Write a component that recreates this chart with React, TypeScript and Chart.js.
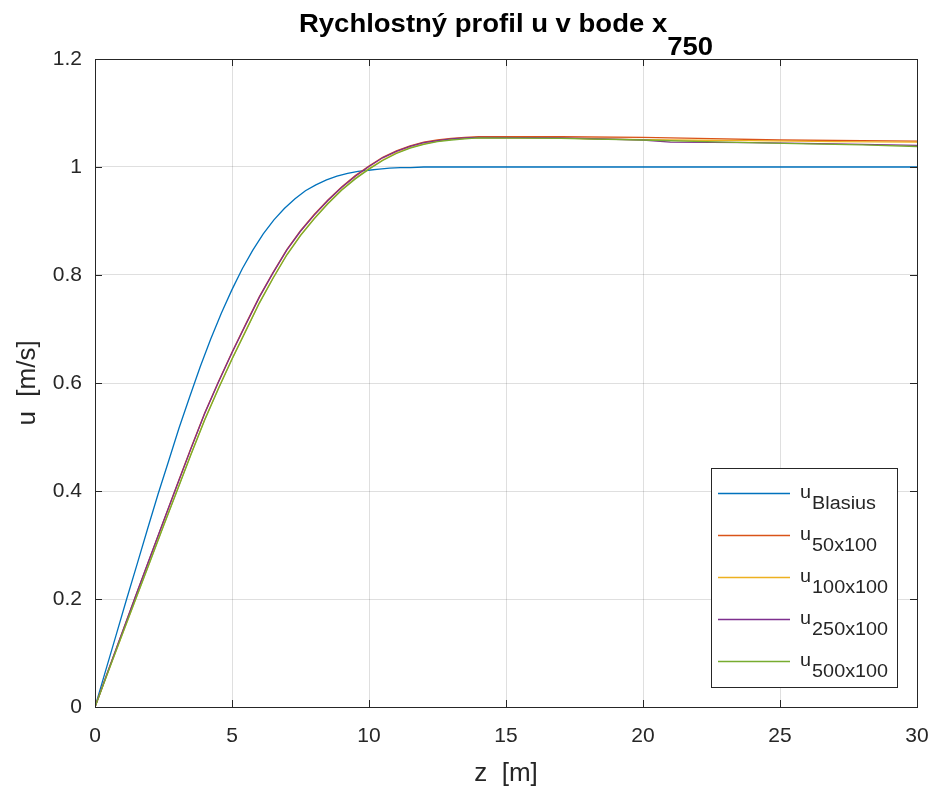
import React, { useEffect, useRef } from "react";
import { Chart, registerables } from "chart.js";

Chart.register(...registerables);

// ---- Data ----
const xTicks = [0, 5, 10, 15, 20, 25, 30];
const xTickLabels = ["0", "5", "10", "15", "20", "25", "30"];
const yTicks = [0, 0.2, 0.4, 0.6, 0.8, 1, 1.2];
const yTickLabels = ["0", "0.2", "0.4", "0.6", "0.8", "1", "1.2"];

const titleMain = "Rychlostný profil u v bode x";
const titleSub = "750";
const xTitle = "z  [m]";
const yTitle = "u  [m/s]";

const seriesNames = ["Blasius", "50x100", "100x100", "250x100", "500x100"];
const seriesColors = ["#0072BD", "#D95319", "#EDB120", "#7E2F8E", "#77AC30"];

const blasiusZ = [0, 0.38, 0.77, 1.15, 1.54, 1.92, 2.3, 2.69, 3.07, 3.46, 3.84, 4.22, 4.61, 4.99, 5.38, 5.76, 6.14, 6.53, 6.91, 7.3, 7.68, 8.06, 8.45, 8.83, 9.22, 9.6, 9.98, 10.37, 10.75, 11.14, 11.52, 12, 30];
const blasiusU = [0, 0.066, 0.133, 0.199, 0.265, 0.33, 0.394, 0.456, 0.517, 0.575, 0.63, 0.681, 0.729, 0.772, 0.812, 0.846, 0.876, 0.902, 0.923, 0.941, 0.956, 0.967, 0.976, 0.983, 0.988, 0.992, 0.994, 0.996, 0.998, 0.999, 0.999, 1.0, 1.0];

const z50 = [0, 0.5, 1, 1.5, 2, 2.5, 3, 3.5, 4, 4.5, 5, 5.5, 6, 6.5, 7, 7.5, 8, 8.5, 9, 9.5, 10, 10.5, 11, 11.5, 12, 12.5, 13, 13.5, 14, 17, 20, 21, 22, 25, 28, 30];
const u50 = [0, 0.07, 0.139, 0.208, 0.276, 0.344, 0.412, 0.479, 0.544, 0.602, 0.657, 0.709, 0.76, 0.805, 0.847, 0.882, 0.912, 0.939, 0.963, 0.984, 1.002, 1.018, 1.03, 1.039, 1.046, 1.05, 1.053, 1.055, 1.056, 1.056, 1.055, 1.054, 1.053, 1.05, 1.049, 1.048];

const z100 = [0, 0.5, 1, 1.5, 2, 2.5, 3, 3.5, 4, 4.5, 5, 5.5, 6, 6.5, 7, 7.5, 8, 8.5, 9, 9.5, 10, 10.5, 11, 11.5, 12, 12.5, 13, 13.5, 14, 17, 18, 21, 24, 27, 30];
const u100 = [0, 0.068, 0.135, 0.202, 0.269, 0.336, 0.402, 0.468, 0.532, 0.59, 0.645, 0.697, 0.749, 0.795, 0.838, 0.874, 0.905, 0.933, 0.958, 0.979, 0.997, 1.013, 1.026, 1.036, 1.043, 1.048, 1.051, 1.053, 1.054, 1.054, 1.052, 1.05, 1.049, 1.047, 1.046];

const z250 = [0, 0.5, 1, 1.5, 2, 2.5, 3, 3.5, 4, 4.5, 5, 5.5, 6, 6.5, 7, 7.5, 8, 8.5, 9, 9.5, 10, 10.5, 11, 11.5, 12, 12.5, 13, 13.5, 14, 17, 20, 21, 24, 27, 30];
const u250 = [0, 0.07, 0.139, 0.208, 0.276, 0.344, 0.411, 0.478, 0.543, 0.601, 0.656, 0.708, 0.759, 0.804, 0.846, 0.881, 0.911, 0.938, 0.962, 0.983, 1.001, 1.017, 1.029, 1.038, 1.045, 1.049, 1.052, 1.054, 1.055, 1.054, 1.05, 1.046, 1.045, 1.043, 1.04];

const z500 = [0, 0.5, 1, 1.5, 2, 2.5, 3, 3.5, 4, 4.5, 5, 5.5, 6, 6.5, 7, 7.5, 8, 8.5, 9, 9.5, 10, 10.5, 11, 11.5, 12, 12.5, 13, 13.5, 14, 17, 20, 23, 26, 28, 30];
const u500 = [0, 0.068, 0.135, 0.202, 0.268, 0.335, 0.401, 0.467, 0.531, 0.589, 0.644, 0.696, 0.748, 0.794, 0.837, 0.873, 0.904, 0.932, 0.957, 0.978, 0.996, 1.012, 1.025, 1.035, 1.042, 1.047, 1.05, 1.052, 1.054, 1.053, 1.05, 1.046, 1.043, 1.041, 1.038];

const seriesZ = [blasiusZ, z50, z100, z250, z500];
const seriesU = [blasiusU, u50, u100, u250, u500];

const FONT = "'Liberation Sans', Arial, Helvetica, sans-serif";
const TEXT = "#262626";

const overlayPlugin = {
  id: "overlay",
  afterDatasetsDraw(chart: any) {
    const { ctx, chartArea: a, scales } = chart;
    ctx.save();
    ctx.strokeStyle = TEXT;
    ctx.lineWidth = 1;
    const tl = 7;
    ctx.beginPath();
    for (const v of xTicks) {
      const px = Math.round(scales.x.getPixelForValue(v)) + 0.5;
      ctx.moveTo(px, a.bottom);
      ctx.lineTo(px, a.bottom - tl);
      ctx.moveTo(px, a.top);
      ctx.lineTo(px, a.top + tl);
    }
    for (const v of yTicks) {
      const py = Math.round(scales.y.getPixelForValue(v)) + 0.5;
      ctx.moveTo(a.left, py);
      ctx.lineTo(a.left + tl, py);
      ctx.moveTo(a.right, py);
      ctx.lineTo(a.right - tl, py);
    }
    ctx.stroke();
    ctx.strokeRect(
      Math.round(a.left) + 0.5,
      Math.round(a.top) + 0.5,
      Math.round(a.right - a.left),
      Math.round(a.bottom - a.top)
    );
    ctx.restore();
  },
  afterDraw(chart: any) {
    const { ctx, chartArea: a } = chart;
    const sx = 1.1;
    // Title
    ctx.save();
    ctx.fillStyle = "#000";
    ctx.textBaseline = "alphabetic";
    ctx.textAlign = "left";
    ctx.font = `bold 25px ${FONT}`;
    const wMain = ctx.measureText(titleMain).width;
    const wSub = ctx.measureText(titleSub).width;
    const total = (wMain + wSub) * sx;
    const cx = (a.left + a.right) / 2;
    const start = cx - total / 2;
    ctx.translate(start, 0);
    ctx.scale(sx, 1);
    ctx.fillText(titleMain, 0, 32);
    ctx.fillText(titleSub, wMain, 55);
    ctx.restore();

    // Legend
    const boxR = Math.round(a.right) - 20;
    const boxB = Math.round(a.bottom) - 20;
    const boxW = 186;
    const boxH = 219;
    const boxL = boxR - boxW;
    const boxT = boxB - boxH;
    ctx.save();
    ctx.fillStyle = "#fff";
    ctx.fillRect(boxL, boxT, boxW, boxH);
    ctx.strokeStyle = TEXT;
    ctx.lineWidth = 1;
    ctx.strokeRect(boxL + 0.5, boxT + 0.5, boxW, boxH);
    const rowStep = 42.2;
    for (let i = 0; i < seriesNames.length; i++) {
      const y = Math.round(boxT + 24.5 + i * rowStep) + 0.5;
      ctx.strokeStyle = seriesColors[i];
      ctx.lineWidth = 1.3;
      ctx.beginPath();
      ctx.moveTo(boxL + 7, y);
      ctx.lineTo(boxL + 79, y);
      ctx.stroke();
      ctx.save();
      ctx.translate(boxL + 89, 0);
      ctx.scale(sx, 1);
      ctx.fillStyle = TEXT;
      ctx.font = `18px ${FONT}`;
      ctx.textBaseline = "alphabetic";
      ctx.textAlign = "left";
      ctx.fillText("u", 0, y + 4);
      const wu = ctx.measureText("u").width;
      ctx.fillText(seriesNames[i], wu + 1, y + 15);
      ctx.restore();
    }
    ctx.restore();
  },
};

export default function App() {
  const ref = useRef<HTMLCanvasElement | null>(null);

  useEffect(() => {
    const canvas = ref.current;
    if (!canvas) return;
    const datasets = seriesNames.map((name, i) => ({
      label: "u_" + name,
      data: seriesZ[i].map((z, k) => ({ x: z, y: seriesU[i][k] })),
      borderColor: seriesColors[i],
      backgroundColor: seriesColors[i],
      borderWidth: 1.3,
      pointRadius: 0,
      showLine: true,
      fill: false,
      tension: 0,
      order: seriesNames.length - 1 - i,
    }));

    const chart = new Chart(canvas, {
      type: "scatter",
      data: { datasets },
      plugins: [overlayPlugin],
      options: {
        animation: false,
        responsive: false,
        devicePixelRatio: 1,
        events: [],
        layout: { padding: { top: 59, right: 19, left: 0, bottom: 0 } },
        plugins: {
          legend: { display: false },
          title: { display: false },
          tooltip: { enabled: false },
        },
        scales: {
          x: {
            type: "linear",
            min: 0,
            max: 30,
            afterFit: (s: any) => {
              s.height = 84;
              s.paddingLeft = 0;
              s.paddingRight = 0;
            },
            afterBuildTicks: (s: any) => {
              s.ticks = xTicks.map((v) => ({ value: v }));
            },
            grid: {
              color: "rgba(38,38,38,0.15)",
              drawTicks: false,
              lineWidth: 1,
            },
            border: { display: false },
            ticks: {
              color: TEXT,
              font: { family: FONT, size: 21 },
              padding: 17,
              maxRotation: 0,
              autoSkip: false,
              callback: (v: any) => {
                const idx = xTicks.indexOf(Number(v));
                return idx >= 0 ? xTickLabels[idx] : "";
              },
            },
            title: {
              display: true,
              text: xTitle,
              color: TEXT,
              font: { family: FONT, size: 26 },
              padding: { top: 0, bottom: 2 },
            },
          },
          y: {
            type: "linear",
            min: 0,
            max: 1.2,
            afterFit: (s: any) => {
              s.width = 95;
              s.paddingTop = 0;
              s.paddingBottom = 0;
            },
            afterBuildTicks: (s: any) => {
              s.ticks = yTicks.map((v) => ({ value: v }));
            },
            grid: {
              color: "rgba(38,38,38,0.15)",
              drawTicks: false,
              lineWidth: 1,
            },
            border: { display: false },
            ticks: {
              color: TEXT,
              font: { family: FONT, size: 21 },
              padding: 13,
              autoSkip: false,
              callback: (v: any) => {
                const n = Number(v);
                const idx = yTicks.findIndex((t) => Math.abs(t - n) < 1e-9);
                return idx >= 0 ? yTickLabels[idx] : "";
              },
            },
            title: {
              display: true,
              text: yTitle,
              color: TEXT,
              font: { family: FONT, size: 26 },
              padding: { top: 12, bottom: 0 },
            },
          },
        },
      },
    });
    return () => chart.destroy();
  }, []);

  return (
    <div style={{ position: "fixed", left: 0, top: 0, width: 936, height: 791, background: "#fff" }}>
      <canvas ref={ref} width={936} height={791} style={{ display: "block", width: 936, height: 791 }} />
    </div>
  );
}
